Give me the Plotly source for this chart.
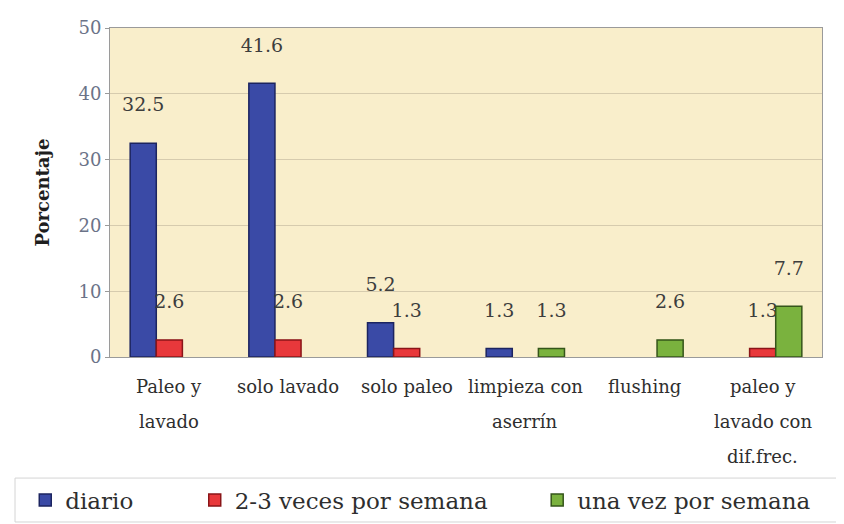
import plotly.graph_objects as go

categories = ["Paleo y\nlavado", "solo lavado", "solo paleo", "limpieza con\naserrín",
              "flushing", "paleo y\nlavado con\ndif.frec."]
series_names = ["diario", "2-3 veces por semana", "una vez por semana"]
diario = [32.5, 41.6, 5.2, 1.3, None, None]
veces_2_3 = [2.6, 2.6, 1.3, None, None, 1.3]
una_vez = [None, None, None, 1.3, 2.6, 7.7]
y_ticks = [0, 10, 20, 30, 40, 50]

colors = ["#3a4aa6", "#e8383b", "#7ab23e"]
edge = ["#1c2460", "#8a1518", "#35551a"]
FONT = "DejaVu Serif"

x_keys = [c.replace("\n", " ") for c in categories]
legend_ids = ["legend", "legend2", "legend3"]
legend_x = [-0.119, 0.119, 0.600]

fig = go.Figure()
for name, vals, c, e, lg in zip(series_names, [diario, veces_2_3, una_vez], colors, edge, legend_ids):
    fig.add_trace(go.Bar(
        x=x_keys, y=vals, name=name, legend=lg,
        marker=dict(color=c, line=dict(color=e, width=1.5)),
        text=[("" if v is None else f"{v:.1f}<br> ") for v in vals],
        textposition="outside",
        constraintext="none",
        textfont=dict(family=FONT, size=19, color="#3d3d3d"),
        cliponaxis=False,
    ))

# category labels as multi-line annotations with wide line spacing
line_gap = 35
for key, cat in zip(x_keys, categories):
    for i, line in enumerate(cat.split("\n")):
        fig.add_annotation(
            x=key, xref="x", y=0, yref="paper", text=line, showarrow=False,
            yanchor="middle", yshift=-(29 + i * line_gap),
            font=dict(family=FONT, size=18, color="#2e2e2e"),
        )

# legend frame
fig.add_shape(type="rect", xref="paper", yref="paper",
              x0=-0.1334, x1=1.03, y0=-0.5015, y1=-0.368,
              line=dict(color="#d4d4d4", width=1), fillcolor="rgba(0,0,0,0)", layer="below")

leg_common = dict(orientation="h", yanchor="middle", y=-0.435, xanchor="left",
                  font=dict(family=FONT, size=23, color="#2e2e2e"),
                  bgcolor="rgba(0,0,0,0)", borderwidth=0, itemwidth=30)

fig.update_layout(
    width=844, height=524,
    margin=dict(l=102, r=30, t=20, b=175, autoexpand=False),
    paper_bgcolor="white",
    plot_bgcolor="#f9eecb",
    barmode="group",
    bargap=0.34,
    bargroupgap=0.0,
    showlegend=True,
    legend=dict(x=legend_x[0], **leg_common),
    legend2=dict(x=legend_x[1], **leg_common),
    legend3=dict(x=legend_x[2], **leg_common),
    xaxis=dict(showticklabels=False, showgrid=False, showline=True,
               linecolor="#9a9a9a", mirror=True, ticks=""),
    yaxis=dict(
        range=[0, 50], tickvals=y_ticks, showgrid=True, gridcolor="#d6cbae",
        showline=True, linecolor="#9a9a9a", mirror=True, ticks="outside",
        ticklen=4, tickcolor="#9a9a9a",
        tickfont=dict(family=FONT, size=18, color="#6b7388"),
        title=dict(text="<b>Porcentaje</b>", standoff=24,
                   font=dict(family=FONT, size=18, color="#1e1e1e")),
        zeroline=False,
    ),
)

fig.write_html("out.html")
